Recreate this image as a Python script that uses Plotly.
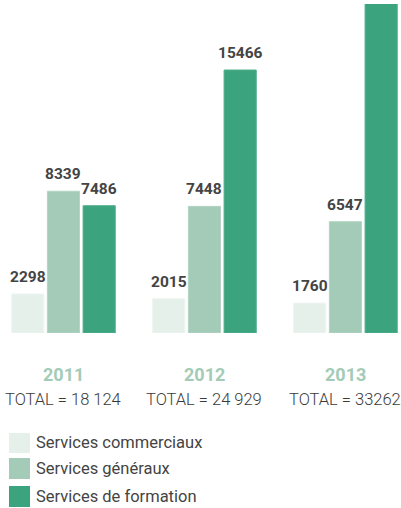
import plotly.graph_objects as go

years = ["2011", "2012", "2013"]
total_labels = ["TOTAL = 18 124", "TOTAL = 24 929", "TOTAL = 33262"]
commerciaux = [2298, 2015, 1760]
generaux = [8339, 7448, 6547]
formation = [7486, 15466, 24955]  # 2013 = 33262 - 1760 - 6547 (bar runs off the top)

series_names = ["Services commerciaux", "Services généraux", "Services de formation"]
series_values = [commerciaux, generaux, formation]
colors = ["#e6f0eb", "#a3cbb7", "#3ba47f"]
edge_colors = ["#eef5f1", "#b3d5c4", "#4fae8c"]

W, H = 401, 508
T, B = 4, 333          # plot top / bottom pixel
PH = B - T
def py(p):             # pixel row -> paper y
    return (B - p) / PH

FONT = "Roboto, Liberation Sans Narrow, DejaVu Sans Condensed, sans-serif"
BARGAP, GROUPGAP = 0.24, 0.1
xs = list(range(len(years)))

fig = go.Figure()
for name, vals, c, ec in zip(series_names, series_values, colors, edge_colors):
    fig.add_trace(go.Bar(x=xs, y=vals, name=name, marker=dict(color=c, line=dict(color=ec, width=1)),
                         showlegend=False, hoverinfo="y"))

annotations = []
slot = (1 - BARGAP) / len(series_values)
for j, vals in enumerate(series_values):
    for i, v in enumerate(vals):
        annotations.append(dict(x=i + (j - 1) * slot, y=v, xref="x", yref="y", text=f"<b>{v}</b>",
                                showarrow=False, yanchor="bottom", yshift=6,
                                font=dict(family=FONT, size=15.5, color="#444444")))
for i, (yr, tl) in enumerate(zip(years, total_labels)):
    annotations.append(dict(x=i, y=py(374), xref="x", yref="paper", text=f"<b>{yr}</b>", showarrow=False,
                            yanchor="middle", font=dict(family=FONT, size=18, color="#a3cbb7")))
    annotations.append(dict(x=i, y=py(399), xref="x", yref="paper", text=tl, showarrow=False,
                            yanchor="middle", font=dict(family=FONT, size=16.5, color="#3a3a3a", weight=300)))

shapes = []
rows = [(433, 453), (458, 479), (486, 507)]
for (r0, r1), name, c in zip(rows, series_names, colors):
    shapes.append(dict(type="rect", xref="paper", yref="paper", x0=9 / W, x1=30 / W, y0=py(r1), y1=py(r0),
                       fillcolor=c, line=dict(width=0)))
    annotations.append(dict(x=34 / W, y=py((r0 + r1) / 2), xref="paper", yref="paper", text=name,
                            showarrow=False, xanchor="left", yanchor="middle",
                            font=dict(family=FONT, size=16.5, color="#444444")))

fig.update_layout(
    width=W, height=H,
    margin=dict(l=0, r=0, t=T, b=H - B),
    paper_bgcolor="white", plot_bgcolor="white",
    barmode="group", bargap=BARGAP, bargroupgap=GROUPGAP,
    xaxis=dict(range=[-0.450, 2.394], showticklabels=False, showgrid=False, zeroline=False, showline=False, ticks=""),
    yaxis=dict(range=[0, 19350], showticklabels=False, showgrid=False, zeroline=False, showline=False, ticks=""),
    annotations=annotations, shapes=shapes,
)
fig.write_html("out.html", config={"displayModeBar": False},
               post_script="document.body.style.margin='0';document.body.style.overflow='hidden';")
